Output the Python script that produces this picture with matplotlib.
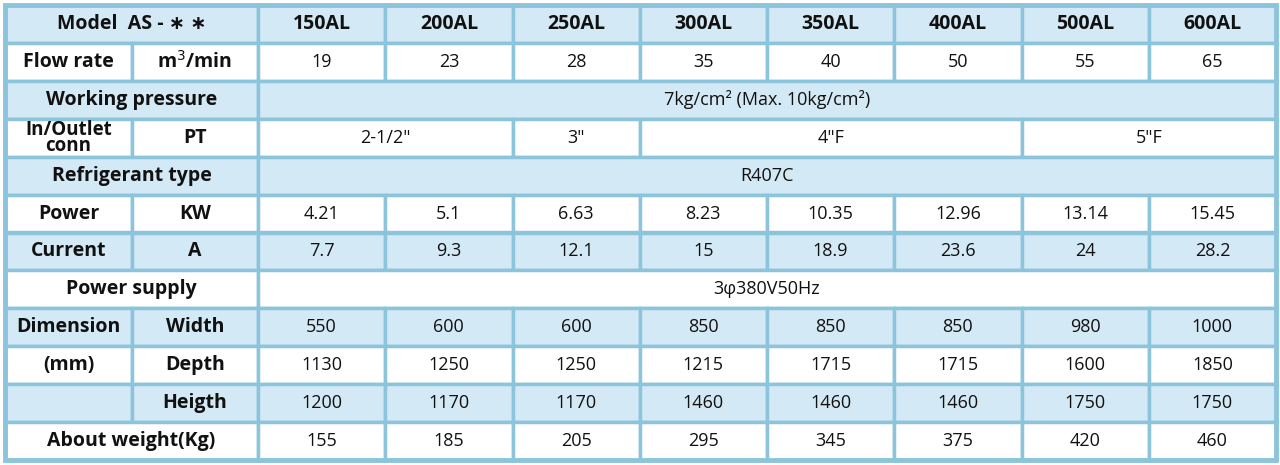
import matplotlib
matplotlib.use("Agg")
import matplotlib.pyplot as plt
from matplotlib.patches import Rectangle

MODELS = ["150AL", "200AL", "250AL", "300AL", "350AL", "400AL", "500AL", "600AL"]
FLOW = ["19", "23", "28", "35", "40", "50", "55", "65"]
PRESSURE = "7kg/cm² (Max. 10kg/cm²)"
CONN = [("2-1/2\"", 2), ("3\"", 1), ("4\"F", 3), ("5\"F", 2)]
REFRIGERANT = "R407C"
POWER = ["4.21", "5.1", "6.63", "8.23", "10.35", "12.96", "13.14", "15.45"]
CURRENT = ["7.7", "9.3", "12.1", "15", "18.9", "23.6", "24", "28.2"]
SUPPLY = "3φ380V50Hz"
WIDTH = ["550", "600", "600", "850", "850", "850", "980", "1000"]
DEPTH = ["1130", "1250", "1250", "1215", "1715", "1715", "1600", "1850"]
HEIGTH = ["1200", "1170", "1170", "1460", "1460", "1460", "1750", "1750"]
WEIGHT = ["155", "185", "205", "295", "345", "375", "420", "460"]

# each row: (label col0, label col1 or None for merged, values list / (text, span) list)
ROWS = [
    ("Model  AS - ∗ ∗", None, MODELS),
    ("Flow rate", "m$^3$/min", FLOW),
    ("Working pressure", None, [(PRESSURE, 8)]),
    ("In/Outlet\nconn", "PT", CONN),
    ("Refrigerant type", None, [(REFRIGERANT, 8)]),
    ("Power", "KW", POWER),
    ("Current", "A", CURRENT),
    ("Power supply", None, [(SUPPLY, 8)]),
    ("Dimension", "Width", WIDTH),
    ("(mm)", "Depth", DEPTH),
    ("", "Heigth", HEIGTH),
    ("About weight(Kg)", None, WEIGHT),
]

BLUE = "#d3e9f5"
LINE = "#8cc4dc"
X0, X1, X2, XR = 5, 132, 258, 1276
Y0, YB = 5, 460
cw = (XR - X2) / 8
rh = (YB - Y0) / len(ROWS)

plt.rcParams["font.family"] = ["Open Sans", "DejaVu Sans"]
fig = plt.figure(figsize=(12.8, 4.65), dpi=100)
ax = fig.add_axes([0, 0, 1, 1])
ax.set_xlim(0, 1280)
ax.set_ylim(465, 0)
ax.axis("off")


def cell(x, y, w, h, txt, fill, bold, size=14):
    ax.add_patch(Rectangle((x, y), w, h, facecolor=fill, edgecolor=LINE, lw=2.5))
    if txt:
        ls = 0.75 if "\n" in txt else 1.2
        ax.text(x + w / 2, y + h / 2, txt, ha="center", va="center", fontsize=size,
                fontweight="bold" if bold else "normal", color="#111", linespacing=ls)


for i, (lab0, lab1, vals) in enumerate(ROWS):
    y = Y0 + i * rh
    fill = BLUE if i % 2 == 0 else "white"
    if lab1 is None:
        cell(X0, y, X2 - X0, rh, lab0, fill, True)
    else:
        cell(X0, y, X1 - X0, rh, lab0, fill, True, 13.5 if "\n" in lab0 else 14)
        cell(X1, y, X2 - X1, rh, lab1, fill, True)
    if isinstance(vals[0], tuple):
        c = 0
        for txt, span in vals:
            cell(X2 + c * cw, y, span * cw, rh, txt, fill, False, 13)
            c += span
    else:
        for j, v in enumerate(vals):
            cell(X2 + j * cw, y, cw, rh, v, fill, i == 0, 14 if i == 0 else 13)

ax.add_patch(Rectangle((X0, Y0), XR - X0, YB - Y0, facecolor="none", edgecolor=LINE, lw=3.5))
fig.savefig("out.png", dpi=100)
